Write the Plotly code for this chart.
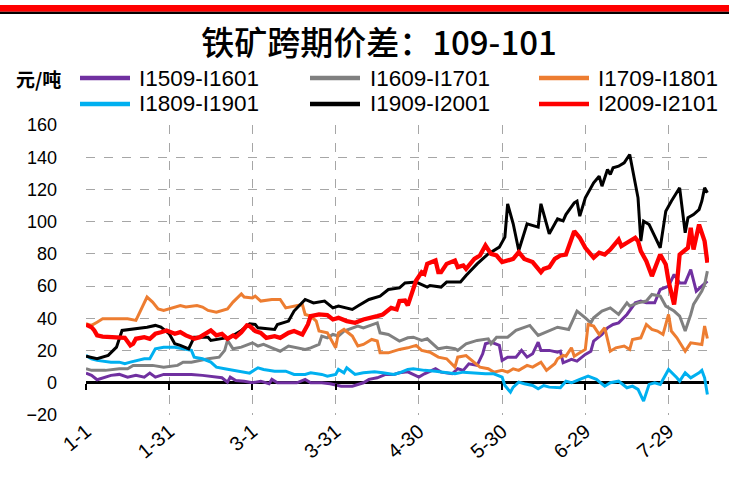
import plotly.graph_objects as go

# ---------------- data ----------------
YEAR = "2020"
series_names = ["I1509-I1601", "I1609-I1701", "I1709-I1801",
                "I1809-I1901", "I1909-I2001", "I2009-I2101"]
series_colors = ["#7030A0", "#808080", "#ED7D31", "#00B0F0", "#000000", "#FF0000"]

purple_dates = ["01-01","01-03","01-05","01-08","01-10","01-13","01-16","01-19","01-22","01-24",
                "01-26","01-29","02-03","02-08","02-12","02-16","02-19","02-21","02-22","02-24",
                "02-27","03-01","03-04","03-07","03-08","03-10","03-14","03-17","03-20","03-22",
                "03-26","03-29","04-02","04-06","04-10","04-12","04-15","04-18","04-21","04-23",
                "04-26","04-30","05-02","05-06","05-08","05-12","05-14","05-16","05-18","05-21",
                "05-23","05-24","05-26","05-29","05-30","06-01","06-04","06-06","06-08","06-10",
                "06-12","06-13","06-16","06-19","06-20","06-21","06-24","06-26","06-29","07-01",
                "07-02","07-05","07-07","07-09","07-11","07-14","07-17","07-19","07-21","07-24",
                "07-26","07-29","07-31","08-02","08-04","08-06","08-08","08-10","08-12"]
purple_vals = [6,4.6,1.9,3.5,4.6,5.2,3.5,4.6,3.5,6,
               3.5,5.2,5.2,5.2,4.6,3.5,3.1,0.4,3.5,1.4,
               1.0,0,1,-0.6,2.1,0,0,0,2.1,0,
               0,-0.6,-2.1,-2.1,0,2.1,3.1,5.2,5.2,6.2,
               6.8,3.5,5.6,8.7,6.6,5.6,8.7,7.7,11.8,10.8,
               18,24.2,25.2,23.2,13.9,15.9,15.9,20.1,15.9,18,
               25.2,20.1,20.1,19,19.6,12.4,14.5,13.4,17.6,19.6,
               25.9,30,34.1,36.2,37.2,42.4,49.6,50.7,49.6,49.6,
               57.9,60,67.2,62,62,70.3,56.9,60,63.1]

gray_dates = ["01-01","01-03","01-08","01-13","01-16","01-18","01-25","01-29","02-03","02-05",
              "02-08","02-11","02-14","02-18","02-20","02-21","02-23","02-26","03-01","03-03",
              "03-05","03-08","03-11","03-14","03-17","03-20","03-22","03-25","03-26","03-28",
              "03-30","04-01","04-03","04-06","04-08","04-10","04-13","04-15","04-16","04-19",
              "04-21","04-23","04-26","04-28","05-01","05-03","05-07","05-10","05-13","05-14",
              "05-17","05-21","05-25","05-26","05-28","06-01","06-04","06-09","06-12","06-15",
              "06-19","06-23","06-26","06-29","07-01","07-02","07-05","07-08","07-11","07-14",
              "07-15","07-18","07-21","07-23","07-26","07-28","07-31","08-02","08-04","08-06",
              "08-07","08-10","08-11","08-12"]
gray_vals = [8.7,7.7,7.7,8.7,8.7,10.8,10.8,9.7,10.8,12.8,
             12.8,13.9,14.9,15.9,20.1,26.3,21.1,22.1,24.8,22.8,
             23.8,21.7,19.6,22.8,21.7,20.7,21.7,23.8,29,27.9,
             30,29,32.1,34.1,35.2,34.1,36.2,37.2,31,30,
             27.9,25.9,27.9,28.3,26.3,27.3,21.1,22.1,21.1,20.1,
             24.2,26.3,27.3,24.2,28.3,28.3,32.5,35.6,29.4,31.4,
             34.5,33.1,44.5,40.3,37.2,40.3,44.5,46.5,42.4,49.6,
             47.6,49.6,50.7,54.8,53.8,47.6,44.5,41.4,32.1,42.4,
             48.6,56.9,61,69.3]

orange_dates = ["01-01","01-03","01-05","01-07","01-13","01-16","01-19","01-21","01-23","01-25",
                "01-27","01-29","01-31","02-02","02-04","02-06","02-10","02-12","02-14","02-17",
                "02-21","02-23","02-26","02-27","03-01","03-02","03-04","03-08","03-11","03-13",
                "03-17","03-19","03-20","03-22","03-24","03-25","03-28","03-31","04-01","04-03",
                "04-06","04-08","04-10","04-13","04-15","04-16","04-19","04-21","04-23","04-26",
                "04-29","05-01","05-04","05-07","05-10","05-13","05-14","05-17","05-20","05-22",
                "05-25","05-27","05-30","06-01","06-03","06-05","06-08","06-10","06-13","06-15",
                "06-18","06-19","06-21","06-22","06-24","06-25","06-27","06-29","06-30","07-02",
                "07-04","07-06","07-08","07-10","07-13","07-15","07-16","07-19","07-21","07-23",
                "07-25","07-27","07-29","07-30","08-01","08-04","08-06","08-09","08-10","08-11",
                "08-12"]
orange_vals = [36.6,35.6,37.6,39.7,39.7,39.7,38.7,45.9,53.2,50.1,
               45.9,44.9,45.9,47,48,47,48,47,44.9,43.8,
               45.9,50.1,55.2,53.2,52.7,53.8,50.7,51.7,51.7,46.5,
               47.6,48.6,42.4,41.4,38.3,32.1,31,21.7,31,33.1,
               29,22.8,23.8,26.9,25.9,18.6,18.6,19.6,20.7,21.7,
               23.2,20.1,19,15.9,14.9,9.7,15.9,16.9,12.8,9.7,
               8.7,6.6,7.7,6.6,8.7,7.7,10.8,9.7,12.8,7.7,
               11.8,14.9,17,16.5,21.7,16.5,18.6,20.7,36.2,35.2,
               30,34.1,19.6,21.7,22.8,20.7,26.9,27.9,36.2,33.1,
               32.1,30,42.4,32.1,27.9,19.6,24.8,23.8,23.8,35.2,
               27.5]

cyan_dates = ["01-01","01-03","01-05","01-08","01-10","01-13","01-15","01-17","01-20","01-22",
              "01-24","01-26","01-29","02-02","02-05","02-08","02-09","02-12","02-15","02-17",
              "02-20","02-23","02-26","02-29","03-03","03-05","03-09","03-13","03-16","03-20",
              "03-22","03-26","03-28","03-31","04-01","04-03","04-04","04-07","04-10","04-14",
              "04-17","04-21","04-23","04-26","04-28","05-02","05-06","05-09","05-13","05-16",
              "05-20","05-24","05-27","05-30","05-31","06-02","06-03","06-05","06-07","06-10",
              "06-12","06-14","06-16","06-19","06-20","06-22","06-24","06-27","06-30","07-03",
              "07-06","07-08","07-11","07-14","07-16","07-18","07-20","07-22","07-24","07-26",
              "07-29","08-01","08-02","08-04","08-06","08-09","08-10","08-11","08-12"]
cyan_vals = [17,14.9,13.9,13.4,12.8,12.8,11.8,12.8,13.9,14.9,
             14.9,21.1,22.1,22.1,21.1,20.1,15.9,14.9,12.8,9.7,
             8.7,7.7,6.6,6,9.3,8.3,7.2,7.2,5.2,5.2,
             6.2,5.2,4.1,5.2,8.3,6.2,9.3,5.2,6.2,6.8,
             6.2,5.2,6.2,8.3,8.7,7.7,7.2,6.6,5.6,6.6,
             6,5.6,5.6,3.5,-1.7,-5.8,-2.7,0.4,-0.6,-1.7,
             -3.7,-1.7,-2.7,-2.7,-3.1,1,0,2.1,4.1,2.1,
             -2.1,0,1,-3.1,-2.1,-4.1,-11.4,-1,0,-1,
             8.3,3.1,1,6.2,3.1,6.2,7.7,3.1,-7.2]

black_dates = ["01-01","01-05","01-09","01-12","01-14","01-19","01-23","01-26","01-28","01-31",
               "02-02","02-04","02-07","02-09","02-14","02-15","02-22","02-26","02-29","03-02",
               "03-03","03-09","03-10","03-14","03-16","03-20","03-23","03-27","03-30","04-01",
               "04-06","04-08","04-12","04-16","04-19","04-23","04-25","04-29","05-03","05-04",
               "05-08","05-10","05-15","05-17","05-21","05-25","05-29","05-31","06-01","06-03",
               "06-05","06-08","06-12","06-13","06-16","06-19","06-21","06-22","06-25","06-26",
               "06-27","06-29","07-02","07-04","07-05","07-07","07-08","07-09","07-11","07-13",
               "07-15","07-18","07-19","07-20","07-22","07-24","07-26","07-28","07-30","08-02",
               "08-04","08-05","08-07","08-09","08-10","08-11","08-12"]
black_vals = [16.5,14.9,17,22.1,32.5,33.5,34.5,35.6,34.5,30.4,
              24.2,23.2,21.1,28.3,28.3,26.3,28.3,32.5,36.6,36.2,
              34.1,33.1,36.2,38.3,44.5,51.7,49.6,50.7,46.5,47.6,
              45.5,47.6,51.7,53.8,57.9,58.9,62,62.5,59.4,60.4,
              59.4,62.5,62.5,66.6,73.8,80,84.2,90.4,111.1,98.7,
              82.1,98.7,96.6,111.1,92.5,101.8,100.5,104.4,111.7,112.7,
              103.4,114.8,124.1,128.2,122,132.4,129.3,133.4,134.4,136.5,
              141.7,114.8,87.9,100.3,98.2,91,83.8,106.5,112.7,121,
              93.1,102.4,104.4,107.5,112.7,121,117.9]

red_dates = ["01-01","01-03","01-04","01-05","01-07","01-12","01-15","01-17","01-18","01-19",
             "01-22","01-24","01-26","01-28","01-30","02-02","02-04","02-06","02-09","02-11",
             "02-13","02-15","02-17","02-19","02-21","02-23","02-24","02-26","02-28","02-29",
             "03-02","03-04","03-06","03-09","03-11","03-14","03-16","03-19","03-21","03-22",
             "03-25","03-28","03-30","04-01","04-04","04-07","04-10","04-13","04-15","04-17",
             "04-20","04-22","04-23","04-25","04-26","04-27","04-29","05-01","05-02","05-03",
             "05-06","05-07","05-08","05-10","05-13","05-14","05-16","05-17","05-20","05-22",
             "05-24","05-26","05-28","05-30","06-01","06-03","06-05","06-07","06-10","06-13",
             "06-14","06-16","06-18","06-20","06-22","06-25","06-27","06-29","07-02","07-04",
             "07-06","07-08","07-11","07-12","07-14","07-17","07-18","07-19","07-21","07-23",
             "07-26","07-28","07-29","07-31","08-01","08-02","08-05","08-06","08-07","08-09",
             "08-11","08-12"]
red_vals = [36,34.5,32.5,29.4,28.7,28.3,27.9,23.2,24.2,27.3,
            28.3,27.3,30.4,31.4,32.5,30.4,31.4,29.4,27.3,28.3,
            30.4,32.5,29.4,30.4,27.3,29.4,28.3,31.4,35.6,35.2,
            32.1,31,27.9,28.9,27.9,31,32.1,30,36.2,41.4,
            42.4,42,39.3,40.3,38.3,37.2,39.3,40.3,41.4,42.4,
            46.5,45.5,50.7,51,48,53.2,63.5,68.7,67.6,73.8,
            75.9,68.7,68.7,73.8,75.9,71.8,72.8,70.7,76.9,79,
            85.2,80,79,74.9,75.9,76.9,81.1,76.9,74.9,68.7,
            70.7,71.8,76.9,79,79.6,94.1,90,83.8,77.6,80.7,
            79.6,82.7,88.9,84.8,86.9,90,87.9,81.7,75.5,66.2,
            79.6,73.4,63.1,48.6,61,79.6,83.8,96.2,82.7,98.2,
            87.9,74.5]

tick_dates = ["01-01", "01-31", "03-01", "03-31", "04-30", "05-30", "06-29", "07-29"]
tick_labels = ["1-1", "1-31", "3-1", "3-31", "4-30", "5-30", "6-29", "7-29"]
y_ticks = [-20, 0, 20, 40, 60, 80, 100, 120, 140, 160]
x_range = ["2020-01-01", "2020-08-12 14:00"]

title_text = "铁矿跨期价差：109-101"
unit_text = "元/吨"

all_dates = [purple_dates, gray_dates, orange_dates, cyan_dates, black_dates, red_dates]
all_vals = [purple_vals, gray_vals, orange_vals, cyan_vals, black_vals, red_vals]
widths = [3, 3, 3, 3, 3, 4.3]


def full(ds):
    return [f"{YEAR}-{d}" for d in ds]


# ---------------- layout helpers ----------------
W, H = 729, 480
L, R, T, B = 86, 20, 125, 65
PW, PH = W - L - R, H - T - B


def px(x):
    return (x - L) / PW


def py(y):
    return (H - B - y) / PH


fig = go.Figure()
for name, color, ds, vs, w in zip(series_names, series_colors, all_dates, all_vals, widths):
    n = min(len(ds), len(vs))
    fig.add_trace(go.Scatter(x=full(ds[:n]), y=vs[:n], mode="lines", name=name,
                             line=dict(color=color, width=w), showlegend=False,
                             hoverinfo="skip"))

# empty trace so the zero-line tick axis is drawn
fig.add_trace(go.Scatter(x=[], y=[], xaxis="x2", showlegend=False))

NUM_FONT = "Liberation Sans, Arial"
CJK_FONT = "Noto Sans CJK SC"
GRID = "#A6A6A6"

shapes = [
    dict(type="rect", xref="paper", yref="paper", x0=px(0), x1=px(W), y0=py(11.7), y1=py(5),
         fillcolor="#FF0000", line=dict(width=0), layer="above"),
    dict(type="rect", xref="paper", yref="paper", x0=px(0), x1=px(W), y0=py(14), y1=py(11.7),
         fillcolor="#000000", line=dict(width=0), layer="above"),
]
annotations = [
    dict(text=unit_text, xref="paper", yref="paper", x=px(38), y=py(78), showarrow=False,
         xanchor="center", yanchor="middle",
         font=dict(family=CJK_FONT, size=19, color="#000000", weight="bold")),
]

leg_line_x = [80, 310, 539]
leg_text_x = [137, 368, 596]
leg_y = [78, 104]
for i, (name, color) in enumerate(zip(series_names, series_colors)):
    r, c = divmod(i, 3)
    shapes.append(dict(type="line", xref="paper", yref="paper",
                       x0=px(leg_line_x[c]), x1=px(leg_line_x[c] + 50),
                       y0=py(leg_y[r]), y1=py(leg_y[r]),
                       line=dict(color=color, width=4.5)))
    annotations.append(dict(text=name, xref="paper", yref="paper",
                            x=px(leg_text_x[c]), y=py(leg_y[r]), showarrow=False,
                            xanchor="left", yanchor="middle",
                            font=dict(family=NUM_FONT, size=22.5, color="#000000")))

fig.update_layout(
    width=W, height=H,
    margin=dict(l=L, r=R, t=T, b=B, autoexpand=False),
    paper_bgcolor="white", plot_bgcolor="rgba(0,0,0,0)",
    showlegend=False,
    title=dict(text=title_text, x=379 / W, y=1 - 43 / H, xref="container", yref="container",
               xanchor="center", yanchor="middle",
               font=dict(family=CJK_FONT, size=33, color="#000000", weight=500)),
    xaxis=dict(type="date", range=x_range, tickvals=full(tick_dates), ticktext=tick_labels,
               tickangle=-40, showgrid=True, gridcolor=GRID, griddash="dash", gridwidth=1,
               zeroline=False, showline=False, ticks="", automargin=False,
               tickfont=dict(family=NUM_FONT, size=20, color="#000000")),
    xaxis2=dict(type="date", range=x_range, tickvals=full(tick_dates), overlaying="x",
                anchor="free", position=20 / 180, side="bottom", showgrid=False,
                showticklabels=False, ticks="outside", ticklen=6, tickwidth=2,
                tickcolor="#000000", showline=False, zeroline=False),
    yaxis=dict(range=[-20, 160], tickvals=y_ticks, showgrid=True, gridcolor=GRID,
               griddash="dash", gridwidth=1, zeroline=True, zerolinecolor="#000000",
               zerolinewidth=2.5, showline=False, ticks="", ticklabelstandoff=28,
               automargin=False,
               tickfont=dict(family="Liberation Sans, Arial", size=18, color="#000000")),
    shapes=shapes,
    annotations=annotations,
)

fig.write_html("out.html", config={"displayModeBar": False})

# remove the default page margin so the figure sits at the top-left corner
with open("out.html", "r", encoding="utf-8") as f:
    html = f.read()
html = html.replace("<head>", "<head><style>html,body{margin:0;padding:0;overflow:hidden;}</style>", 1)
with open("out.html", "w", encoding="utf-8") as f:
    f.write(html)
